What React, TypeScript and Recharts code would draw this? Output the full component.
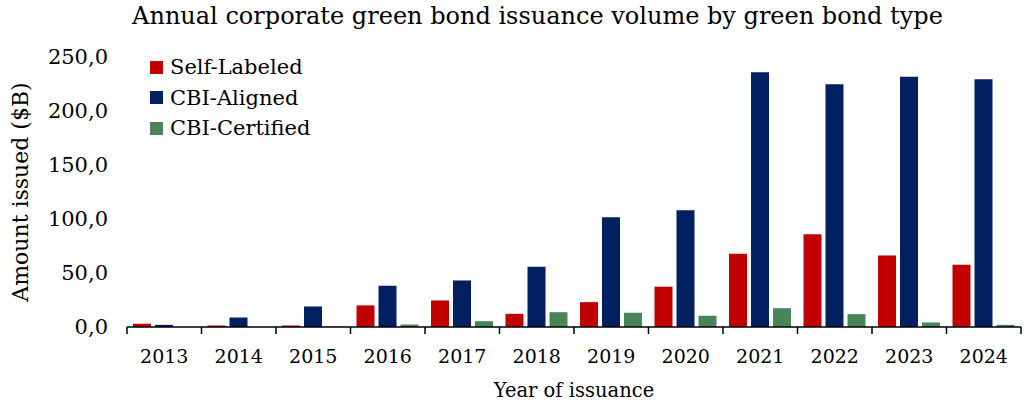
import { Bar, BarChart, XAxis, YAxis } from "recharts";

const YEARS = ["2013", "2014", "2015", "2016", "2017", "2018", "2019", "2020", "2021", "2022", "2023", "2024"];
const SELF_LABELED = [3.0, 1.4, 1.4, 20.0, 24.6, 12.2, 23.0, 37.3, 67.9, 85.8, 66.3, 57.7];
const CBI_ALIGNED = [2.0, 8.8, 19.0, 38.2, 43.1, 55.8, 101.6, 108.0, 235.8, 224.7, 231.8, 229.4];
const CBI_CERTIFIED = [0.0, 0.0, 0.4, 2.3, 5.4, 13.7, 13.2, 10.4, 17.4, 11.9, 4.2, 2.0];
const Y_TICKS = [0, 50, 100, 150, 200, 250];

const SERIES = [
  { key: "selfLabeled", name: "Self-Labeled", color: "#C00000" },
  { key: "cbiAligned", name: "CBI-Aligned", color: "#002060" },
  { key: "cbiCertified", name: "CBI-Certified", color: "#4A8559" },
];

const data = YEARS.map((year, i) => ({
  year,
  selfLabeled: SELF_LABELED[i],
  cbiAligned: CBI_ALIGNED[i],
  cbiCertified: CBI_CERTIFIED[i],
}));

const FONT = "'DejaVu Serif', Georgia, serif";
const WIDTH = 1025;
const HEIGHT = 403;

const fmt = (v: number) => v.toFixed(1).replace(".", ",");

// year label plus Excel-style tick marks on the category boundaries
function YearTick(props: any) {
  const { x, y, payload, index, visibleTicksCount } = props;
  const half = payload?.offset ?? (WIDTH - 127 - 4) / YEARS.length / 2;
  return (
    <g>
      <line x1={x - half} x2={x - half} y1={y} y2={y + 7} stroke="#000" strokeWidth={1.5} />
      {index === visibleTicksCount - 1 && (
        <line x1={x + half} x2={x + half} y1={y} y2={y + 7} stroke="#000" strokeWidth={1.5} />
      )}
      <text x={x} y={y + 36} textAnchor="middle" fontSize={19} fontFamily={FONT} fill="#000">
        {payload.value}
      </text>
    </g>
  );
}

function LegendBox() {
  return (
    <div
      style={{
        position: "absolute",
        left: 150,
        top: 52,
        fontFamily: FONT,
        fontSize: 21,
        color: "#000",
      }}
    >
      {SERIES.map((s) => (
        <div key={s.key} style={{ display: "flex", alignItems: "center", height: 30.5 }}>
          <span style={{ width: 13, height: 13, background: s.color, marginRight: 7 }} />
          <span>{s.name}</span>
        </div>
      ))}
    </div>
  );
}

export default function App() {
  return (
    <div style={{ position: "relative", width: WIDTH, height: HEIGHT, background: "#fff" }}>
      <style>{`body{margin:0}`}</style>
      <div
        style={{
          position: "absolute",
          top: 2,
          left: 0,
          width: WIDTH,
          textAlign: "center",
          paddingLeft: 50,
          boxSizing: "border-box",
          fontFamily: FONT,
          fontSize: 24,
          color: "#000",
          whiteSpace: "nowrap",
        }}
      >
        Annual corporate green bond issuance volume by green bond type
      </div>
      <BarChart
        width={WIDTH}
        height={HEIGHT}
        data={data}
        margin={{ top: 57, right: 4, left: 0, bottom: 0 }}
        barCategoryGap={6}
        barGap={4}
      >
        <XAxis
          dataKey="year"
          height={76}
          tickLine={false}
          tickSize={0}
          tickMargin={0}
          axisLine={{ stroke: "#000", strokeWidth: 1.5 }}
          tick={<YearTick />}
          interval={0}
          label={{
            value: "Year of issuance",
            position: "insideBottom",
            offset: 6,
            style: { fontFamily: FONT, fontSize: 19.5, fill: "#000" },
          }}
        />
        <YAxis
          width={127}
          domain={[0, 250]}
          ticks={Y_TICKS}
          axisLine={false}
          tickLine={false}
          tickSize={0}
          tickMargin={19}
          tickFormatter={fmt}
          tick={{ fontFamily: FONT, fontSize: 21, fill: "#000" }}
          label={{
            value: "Amount issued ($B)",
            angle: -90,
            position: "insideLeft",
            offset: 20,
            style: { fontFamily: FONT, fontSize: 22, fill: "#000", textAnchor: "middle" },
          }}
        />
        {SERIES.map((s) => (
          <Bar key={s.key} dataKey={s.key} name={s.name} fill={s.color} isAnimationActive={false} />
        ))}
      </BarChart>
      <LegendBox />
    </div>
  );
}
